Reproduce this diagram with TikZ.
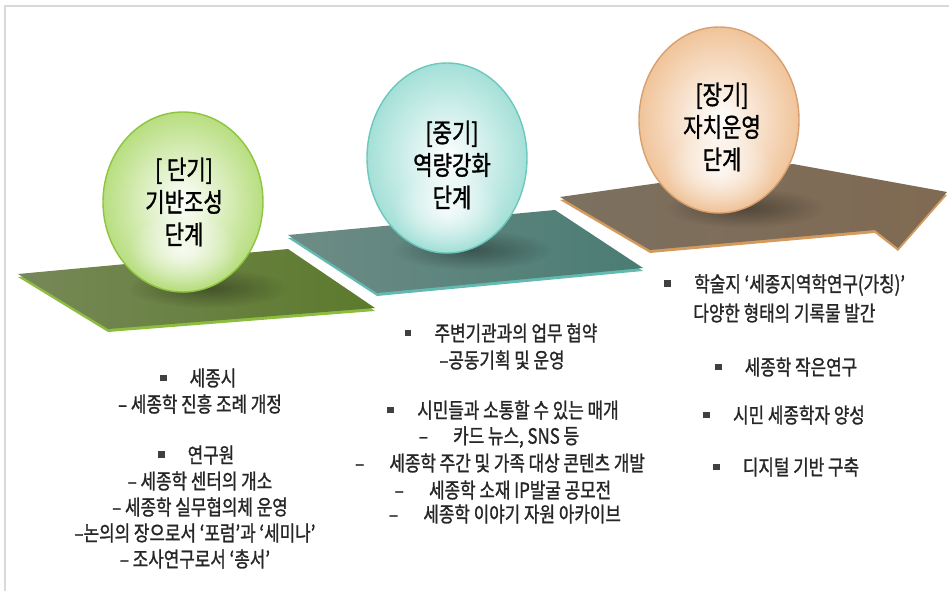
\documentclass[tikz,border=0pt]{standalone}
\usepackage{fontspec}
\setmainfont{Noto Sans CJK KR}[FakeStretch=0.80, FakeBold=1.2]
\usetikzlibrary{fadings}

\definecolor{frameline}{HTML}{D9D9D9}
\definecolor{greenL}{HTML}{768858}
\definecolor{greenR}{HTML}{5C7A2C}
\definecolor{greenE}{HTML}{8DBD3E}
\definecolor{tealL}{HTML}{6E8C86}
\definecolor{tealR}{HTML}{4A7C73}
\definecolor{tealE}{HTML}{62BAB0}
\definecolor{brownL}{HTML}{7C7060}
\definecolor{brownR}{HTML}{806A52}
\definecolor{brownE}{HTML}{D39A5E}
\definecolor{ballG}{HTML}{B8DE80}
\definecolor{ballGb}{HTML}{8EC43E}
\definecolor{ballT}{HTML}{A4E0D8}
\definecolor{ballTb}{HTML}{6CC8BC}
\definecolor{ballP}{HTML}{F0C49A}
\definecolor{ballPb}{HTML}{D8A070}

\tikzfading[name=softblob, inner color=transparent!0, outer color=transparent!100]

\newcommand{\sq}{\textcolor{black!75}{\rule[0.22em]{0.32em}{0.32em}}\hspace{1.1em}}

\begin{document}
\begin{tikzpicture}[x=0.02cm,y=-0.02cm,
  item/.style = {text=black!85, font=\fontsize{12}{14}\selectfont, inner sep=0pt},
  stage/.style = {align=center, font=\fontsize{15}{18.5}\selectfont, inner sep=0pt},
  shadowblob/.style = {fill=black, opacity=0.35, path fading=softblob}]
    \useasboundingbox (0,0) rectangle (949,591);
    \draw[frameline, line width=1.2pt] (5,591) -- (5,6) -- (949,6);

    % long-term plate (arrow)
    \fill[brownE] (560,200) -- (793,167) -- (947,195) -- (898,251)
        -- (875,233) -- (650,253) -- cycle;
    \shade[left color=brownL, right color=brownR]
        (560,197) -- (793,164) -- (947,192) -- (898,248)
        -- (875,230) -- (650,250) -- cycle;
    \begin{scope}
        \clip (560,197) -- (793,164) -- (947,192) -- (898,248)
            -- (875,230) -- (650,250) -- cycle;
        \fill[shadowblob] (745,208) ellipse (80 and 20);
    \end{scope}

    % mid-term plate
    \fill[tealE] (288,238) -- (555,213) -- (643,271) -- (377,296) -- cycle;
    \shade[left color=tealL, right color=tealR]
        (288,235) -- (555,210) -- (643,268) -- (377,293) -- cycle;
    \begin{scope}
        \clip (288,235) -- (555,210) -- (643,268) -- (377,293) -- cycle;
        \fill[shadowblob] (472,250) ellipse (80 and 20);
    \end{scope}

    % short-term plate
    \fill[greenE] (18,277) -- (288,252) -- (375,311) -- (108,332) -- cycle;
    \shade[left color=greenL, right color=greenR]
        (18,274) -- (288,249) -- (375,308) -- (108,329) -- cycle;
    \begin{scope}
        \clip (18,274) -- (288,249) -- (375,308) -- (108,329) -- cycle;
        \fill[shadowblob] (208,288) ellipse (80 and 20);
    \end{scope}

    % balloons
    \shade[inner color=white, outer color=ballG] (183,202) ellipse (80 and 90);
    \fill[white, opacity=0.8, path fading=softblob] (183,250) ellipse (55 and 38);
    \draw[ballGb, line width=0.8pt] (183,202) ellipse (80 and 90);

    \shade[inner color=white, outer color=ballT] (447,158) ellipse (80 and 95);
    \fill[white, opacity=0.8, path fading=softblob] (447,210) ellipse (55 and 40);
    \draw[ballTb, line width=0.8pt] (447,158) ellipse (80 and 95);

    \shade[inner color=white, outer color=ballP] (719,120) ellipse (80 and 93);
    \fill[white, opacity=0.8, path fading=softblob] (719,170) ellipse (55 and 40);
    \draw[ballPb, line width=0.8pt] (719,120) ellipse (80 and 93);

    \node[stage] (short) at (184,202) {[ 단기]\\기반조성\\단계};
    \node[stage] (mid) at (452,165) {[중기]\\역량강화\\단계};
    \node[stage] (long) at (722,127) {[장기]\\자치운영\\단계};

    % short-term items
    \node[item] (s1) at (198,378) {\sq 세종시};
    \node[item] (s2) at (200,404) {– 세종학 진흥 조례 개정};
    \node[item] (s3) at (196,455) {\sq 연구원};
    \node[item] (s4) at (200,481) {– 세종학 센터의 개소};
    \node[item] (s5) at (200,507) {– 세종학 실무협의체 운영};
    \node[item] (s6) at (195,533) {–논의의 장으로서 ‘포럼’과 ‘세미나’};
    \node[item] (s7) at (195,559) {– 조사연구로서 ‘총서’};

    % mid-term items
    \node[item] (m1) at (501,333) {\sq 주변기관과의 업무 협약};
    \node[item] (m2) at (502,360) {–공동기획 및 운영};
    \node[item] (m3) at (503,410) {\sq 시민들과 소통할 수 있는 매개};
    \node[item] (m4) at (499,437) {–\hspace{1.2em}카드 뉴스, SNS 등};
    \node[item] (m5) at (500,463) {–\hspace{1.2em}세종학 주간 및 가족 대상 콘텐츠 개발};
    \node[item] (m6) at (503,490) {–\hspace{1.2em}세종학 소재 IP발굴 공모전};
    \node[item] (m7) at (505,514) {–\hspace{1.2em}세종학 이야기 자원 아카이브};

    % long-term items
    \node[item, anchor=west] (l1) at (664,285) {\sq 학술지 ‘세종지역학연구(가칭)’};
    \node[item, anchor=west] (l2) at (693,313) {다양한 형태의 기록물 발간};
    \node[item] (l3) at (786,367) {\sq 세종학 작은연구};
    \node[item] (l4) at (784,415) {\sq 시민 세종학자 양성};
    \node[item] (l5) at (786,467) {\sq 디지털 기반 구축};
\end{tikzpicture}
\end{document}
